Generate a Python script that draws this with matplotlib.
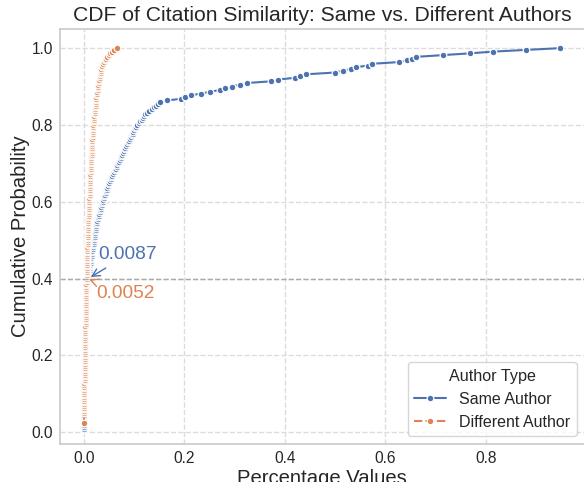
import numpy as np
import pandas as pd
import matplotlib
matplotlib.use("Agg")
import matplotlib.pyplot as plt
import seaborn as sns

# sorted similarity values (one value per paper pair)
same_author = [
    0.00001, 0.00002, 0.00004, 0.00005, 0.00007, 0.00008, 0.0001, 0.00011, 0.00013, 0.00014,
    0.00016, 0.00017, 0.00019, 0.0002, 0.00022, 0.00024, 0.00025, 0.00027, 0.00029, 0.0003,
    0.00032, 0.00034, 0.00036, 0.00038, 0.0004, 0.00042, 0.00044, 0.00046, 0.00048, 0.0005,
    0.00052, 0.00054, 0.00056, 0.00058, 0.0006, 0.00062, 0.00064, 0.00066, 0.00068, 0.0007,
    0.00072, 0.00074, 0.00076, 0.00078, 0.0008, 0.00082, 0.00084, 0.00086, 0.00088, 0.0009,
    0.00092, 0.00094, 0.00096, 0.00098, 0.001, 0.00102, 0.00104, 0.00106, 0.00108, 0.0011,
    0.00112, 0.00114, 0.00116, 0.00118, 0.0012, 0.00122,
    0.0013, 0.0015, 0.0017, 0.0019, 0.0022, 0.0025, 0.0028, 0.0031, 0.0034, 0.0037, 0.004,
    0.0044, 0.0048, 0.0052, 0.0056, 0.006, 0.0064, 0.0068, 0.0072, 0.0077, 0.0082, 0.0087,
    0.0092, 0.0097, 0.0102, 0.0107, 0.0112, 0.0117, 0.0122, 0.0127, 0.0132, 0.0136, 0.014,
    0.0146, 0.0151, 0.0157, 0.0162, 0.0168, 0.0173, 0.0179, 0.0184, 0.019, 0.0195, 0.02,
    0.0205, 0.0211, 0.0216, 0.0222, 0.0227, 0.0233, 0.0238, 0.0244, 0.0249, 0.0255, 0.026,
    0.027, 0.028, 0.029, 0.03, 0.031, 0.032, 0.033, 0.034, 0.035, 0.036, 0.037,
    0.0382, 0.0394, 0.0406, 0.0418, 0.043, 0.0442, 0.0454, 0.0466, 0.0478, 0.049, 0.050,
    0.0516, 0.0532, 0.0548, 0.0564, 0.058, 0.0597, 0.0614, 0.0631, 0.0648, 0.0664, 0.068,
    0.0696, 0.0712, 0.0728, 0.0744, 0.076, 0.0776, 0.0792, 0.0808, 0.0824, 0.0842, 0.086,
    0.0878, 0.0896, 0.0914, 0.0932, 0.095, 0.0968, 0.0986, 0.1004, 0.1022, 0.104, 0.106,
    0.109, 0.112, 0.115, 0.118, 0.12, 0.122, 0.125,
    0.13, 0.135, 0.139, 0.143, 0.148,
    0.151, 0.165, 0.194, 0.201, 0.214, 0.234, 0.251, 0.271, 0.281, 0.294, 0.310, 0.325,
    0.373, 0.387, 0.420, 0.430, 0.442, 0.499, 0.515, 0.531, 0.541, 0.565, 0.573, 0.627,
    0.643, 0.654, 0.662, 0.715, 0.768, 0.815, 0.881, 0.949,
]

diff_author = [
    0.0, 0.0, 0.0, 0.0, 0.0, 0.0, 0.0, 0.0, 0.0, 0.0,
    0.0002, 0.00024, 0.00028, 0.00033, 0.00037, 0.00042, 0.00046, 0.0005, 0.00055, 0.0006, 0.00065, 0.0007,
    0.00075, 0.0008, 0.00085, 0.0009, 0.00095, 0.001, 0.00105, 0.0011, 0.00115, 0.0012, 0.00125,
    0.0013, 0.00135, 0.0014, 0.00145, 0.0015, 0.00155, 0.0016, 0.00165, 0.0017, 0.00175, 0.0018,
    0.00187, 0.00194, 0.00201, 0.00208, 0.00215, 0.00222, 0.00229, 0.00236, 0.00243, 0.0025, 0.00257,
    0.00264, 0.00271, 0.00278, 0.00285, 0.00292, 0.00299, 0.00306, 0.00313, 0.0032, 0.00325, 0.0033,
    0.0034, 0.00349, 0.00358, 0.00367, 0.00376, 0.00385, 0.00394, 0.00403, 0.00412, 0.00421, 0.0043,
    0.00439, 0.00448, 0.00457, 0.00466, 0.00475, 0.00484, 0.00493, 0.00502, 0.0051, 0.00515, 0.0052,
    0.0053, 0.0054, 0.0055, 0.0056, 0.0057, 0.0058, 0.0059, 0.006, 0.0061, 0.0062, 0.0063,
    0.0064, 0.0065, 0.0066, 0.0067, 0.0068, 0.0069, 0.007, 0.0071, 0.0072, 0.0073, 0.0075,
    0.0076, 0.0077, 0.0078, 0.0079, 0.008, 0.0081, 0.0082, 0.0083, 0.0084, 0.0085, 0.0086,
    0.0088, 0.0090, 0.0092, 0.0093, 0.0095, 0.0097, 0.0099, 0.0100, 0.0102, 0.0104, 0.0105,
    0.0107, 0.0108, 0.011, 0.0111, 0.0113, 0.0114, 0.0116, 0.0117, 0.0119, 0.012, 0.0122,
    0.0123, 0.0125, 0.0126, 0.0128, 0.0129, 0.0131, 0.0132, 0.0134, 0.0136, 0.0138, 0.014,
    0.0142, 0.0144, 0.0146, 0.0148, 0.015, 0.0152, 0.0154, 0.0156, 0.0158, 0.016, 0.0162,
    0.0164, 0.0166, 0.0168, 0.017, 0.0172, 0.0174, 0.0176, 0.0178, 0.018, 0.0183, 0.0186,
    0.019, 0.0194, 0.0198, 0.0202, 0.0206, 0.021, 0.0214, 0.0218, 0.0222, 0.0226, 0.023,
    0.0233, 0.0236, 0.0238, 0.024,
    0.0246, 0.0252, 0.0258, 0.0264, 0.027, 0.0276, 0.0282, 0.0288, 0.0294, 0.03, 0.0305,
    0.031, 0.0315, 0.032, 0.033, 0.0335, 0.034,
    0.035, 0.036, 0.038, 0.040, 0.042, 0.044, 0.046, 0.049, 0.052, 0.056, 0.060, 0.065,
]

threshold = 0.4
same_at_threshold = 0.0087
diff_at_threshold = 0.0052

colors = {"Same Author": "#4C72B0", "Different Author": "#DD8452"}


def make_cdf(values, label):
    vals = np.sort(np.array(values))
    cdf = np.arange(1, len(vals) + 1) / len(vals)
    return pd.DataFrame({"Percentage Values": vals, "Cumulative Probability": cdf, "Author Type": label})


df = pd.concat([make_cdf(same_author, "Same Author"), make_cdf(diff_author, "Different Author")],
               ignore_index=True)

sns.set_theme(style="whitegrid", rc={"grid.linestyle": "--", "grid.color": "#dcdcdc",
                                     "axes.edgecolor": "#cccccc"})
plt.rcParams["font.family"] = ["Liberation Sans", "DejaVu Sans"]

fig = plt.figure(figsize=(5.84, 4.82), dpi=100)
ax = fig.add_axes([0.1027, 0.0788, 0.8983, 0.8604])

sns.lineplot(data=df, x="Percentage Values", y="Cumulative Probability",
             hue="Author Type", style="Author Type", palette=colors,
             marker="o", markersize=4.8, markeredgewidth=0.9, errorbar=None, ax=ax)

ax.axhline(threshold, color="#aaaaaa", linestyle="--", linewidth=1)

ax.annotate(f"{same_at_threshold:.4f}", xy=(same_at_threshold, threshold),
            xytext=(same_at_threshold + 0.02, threshold + 0.05),
            color=colors["Same Author"], fontsize=13.8,
            arrowprops=dict(arrowstyle="->", color=colors["Same Author"], lw=1))
ax.annotate(f"{diff_at_threshold:.4f}", xy=(diff_at_threshold, threshold),
            xytext=(diff_at_threshold + 0.02, threshold - 0.05),
            color=colors["Different Author"], fontsize=13.8,
            arrowprops=dict(arrowstyle="->", color=colors["Different Author"], lw=1))

ax.set_xlim(-0.0478, 0.997)
ax.set_ylim(-0.031, 1.049)
ax.set_xticks([0.0, 0.2, 0.4, 0.6, 0.8])
ax.set_yticks([0.0, 0.2, 0.4, 0.6, 0.8, 1.0])
ax.tick_params(labelsize=11.2, length=0, pad=5)

ax.set_title("CDF of Citation Similarity: Same vs. Different Authors", fontsize=15.2)
ax.set_xlabel("Percentage Values", fontsize=14.6, labelpad=2)
ax.set_ylabel("Cumulative Probability", fontsize=14.6, labelpad=1)

sns.move_legend(ax, "lower right", title="Author Type", fontsize=11.5, title_fontsize=11.6)

fig.savefig("out.png", dpi=100)
